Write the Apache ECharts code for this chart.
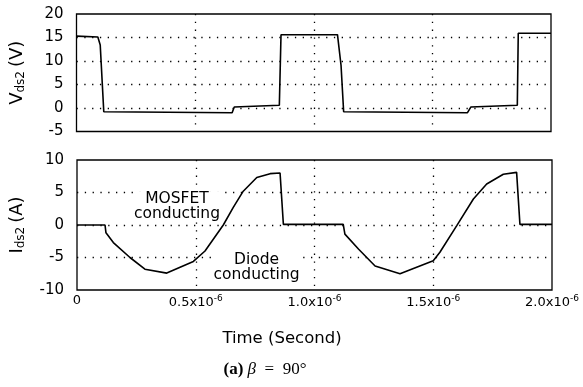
<!DOCTYPE html>
<html><head><meta charset="utf-8">
<script src="https://cdn.jsdelivr.net/npm/echarts@6/dist/echarts.min.js"></script>
<style>html,body{margin:0;padding:0;background:#fff}#c{width:583px;height:387px}</style>
</head><body><div id="c"></div>
<script>
// Time in microseconds (axis is in seconds, 1e-6 scale)
const vTime = [0, 0.090, 0.100, 0.115, 0.122, 0.656, 0.665, 0.855, 0.862, 0.869, 1.100, 1.115, 1.126, 1.133, 1.648, 1.662, 1.858, 1.862, 2.0];
const vVal  = [15.3, 15.1, 13.4, -0.8, -1.0, -1.0, 0.2, 0.6, 15.6, 15.7, 15.6, 9.1, -0.8, -1.0, -1.0, 0.2, 0.6, 15.9, 15.9];
const iTime = [0, 0.118, 0.122, 0.153, 0.223, 0.286, 0.378, 0.490, 0.539, 0.616, 0.658, 0.700, 0.757, 0.813, 0.855, 0.863, 0.869, 1.121, 1.128, 1.185, 1.255, 1.360, 1.500, 1.528, 1.599, 1.669, 1.725, 1.795, 1.851, 1.858, 1.865, 2.0];
const iVal  = [0, 0, -1.2, -2.7, -5.0, -6.8, -7.4, -5.6, -4.0, 0, 2.7, 5.2, 7.3, 7.9, 8.0, 8.0, 0.1, 0.1, -1.4, -3.7, -6.3, -7.5, -5.5, -4.2, -0.1, 4.0, 6.3, 7.8, 8.1, 8.1, 0.1, 0.1];
const xTicks = [0, 0.5e-6, 1.0e-6, 1.5e-6, 2.0e-6];
const vTicks = [-5, 0, 5, 10, 15, 20];
const iTicks = [-10, -5, 0, 5, 10];
const annMosfet = {t: 0.421e-6, v: 2.9, text: 'MOSFET\nconducting'};
const annDiode = {t: 0.756e-6, v: -6.5, text: 'Diode\nconducting'};

const US = 1e-6;
const vData = vTime.map((t, k) => [t * US, vVal[k]]);
const iData = iTime.map((t, k) => [t * US, iVal[k]]);

const FONT = '"DejaVu Sans", Verdana, sans-serif';
const dotted = {color: '#000', width: 1.3, type: [1.3, 6.5]};

function xAxisCfg(idx, showLabels) {
  return {
    type: 'value', gridIndex: idx, min: 0, max: 2e-6, interval: 0.5e-6,
    axisLine: {show: false}, axisTick: {show: false},
    splitLine: {show: true, lineStyle: dotted, showMinLine: false, showMaxLine: false},
    axisLabel: {
      show: showLabels, margin: 4, color: '#000', fontFamily: FONT, fontSize: 13,
      formatter: function (v) {
        if (Math.abs(v) < 1e-12) return '{n|0}';
        return '{n|' + (v / US).toFixed(1) + 'x10}{s|-6}';
      },
      rich: {
        n: {fontSize: 13, fontFamily: FONT, color: '#000'},
        s: {fontSize: 9, fontFamily: FONT, color: '#000', verticalAlign: 'top', padding: [0, 0, 8, 0]}
      }
    }
  };
}
function yAxisCfg(idx, min, max, nameRich) {
  return {
    type: 'value', gridIndex: idx, min: min, max: max, interval: 5,
    axisLine: {show: false}, axisTick: {show: false},
    splitLine: {show: true, lineStyle: dotted, showMinLine: false, showMaxLine: false},
    axisLabel: {margin: 13, color: '#000', fontFamily: FONT, fontSize: 15},
    name: nameRich, nameLocation: 'middle', nameGap: 50, nameRotate: 90,
    nameTextStyle: {
      color: '#000', fontFamily: FONT, fontSize: 18,
      rich: {
        v: {fontSize: 18, fontFamily: FONT, color: '#000'},
        s: {fontSize: 12, fontFamily: FONT, color: '#000', verticalAlign: 'bottom', padding: [7, 4, 0, 0]}
      }
    }
  };
}

const chart = echarts.init(document.getElementById('c'), null, {renderer: 'canvas'});
chart.setOption({
  animation: false,
  backgroundColor: '#fff',
  grid: [
    {left: 76, top: 14, width: 475, height: 117.5, show: true, borderColor: '#000', borderWidth: 1.3, backgroundColor: 'transparent'},
    {left: 77, top: 160, width: 475, height: 130, show: true, borderColor: '#000', borderWidth: 1.3, backgroundColor: 'transparent'}
  ],
  xAxis: [xAxisCfg(0, false), xAxisCfg(1, true)],
  yAxis: [
    yAxisCfg(0, -5, 20, '{v|V}{s|ds2}{v|(V)}'),
    yAxisCfg(1, -10, 10, '{v|I}{s|ds2}{v|(A)}')
  ],
  series: [
    {type: 'line', xAxisIndex: 0, yAxisIndex: 0, data: vData, showSymbol: false, lineStyle: {color: '#000', width: 1.6}},
    {type: 'line', xAxisIndex: 1, yAxisIndex: 1, data: iData, showSymbol: false, lineStyle: {color: '#000', width: 1.6},
      markPoint: {
        symbol: 'circle', symbolSize: 0,
        label: {show: true, position: 'inside', color: '#000', fontFamily: FONT, fontSize: 15.5, lineHeight: 15, align: 'center', verticalAlign: 'middle', backgroundColor: '#fff',
          formatter: p => p.name},
        data: [
          {name: annMosfet.text, coord: [annMosfet.t, annMosfet.v]},
          {name: annDiode.text, coord: [annDiode.t, annDiode.v]}
        ]
      }
    }
  ],
  graphic: [
    {type: 'text', x: 282, y: 339, style: {text: 'Time (Second)', font: '16.5px "DejaVu Sans", sans-serif', fill: '#000', textAlign: 'center', textVerticalAlign: 'middle'}},
    {type: 'text', x: 265, y: 370, style: {
      text: '{b|(a)} {i|β}  =  90°', fill: '#000', textAlign: 'center', textVerticalAlign: 'middle', font: '17px "Liberation Serif", "DejaVu Serif", serif',
      rich: {
        b: {fontWeight: 'bold', fontSize: 17, fontFamily: '"Liberation Serif", serif'},
        i: {fontStyle: 'italic', fontSize: 17, fontFamily: '"Liberation Serif", serif'}
      }}}
  ]
});
</script></body></html>
